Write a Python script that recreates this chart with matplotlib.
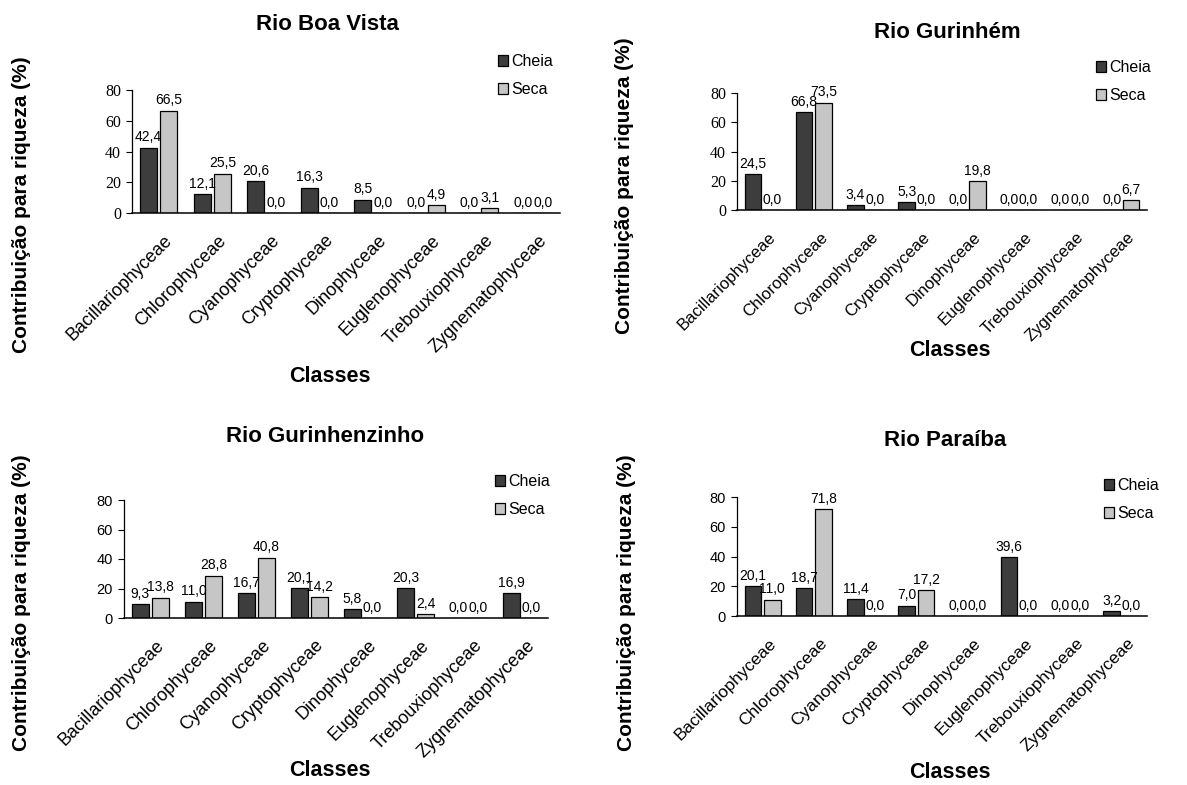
import numpy as np
import matplotlib
matplotlib.use('Agg')
import matplotlib.pyplot as plt
from matplotlib.transforms import ScaledTranslation

plt.rcParams['font.family'] = ['Liberation Sans', 'DejaVu Sans']

classes = ['Bacillariophyceae', 'Chlorophyceae', 'Cyanophyceae', 'Cryptophyceae',
           'Dinophyceae', 'Euglenophyceae', 'Trebouxiophyceae', 'Zygnematophyceae']

boa_vista_cheia = [42.4, 12.1, 20.6, 16.3, 8.5, 0.0, 0.0, 0.0]
boa_vista_seca = [66.5, 25.5, 0.0, 0.0, 0.0, 4.9, 3.1, 0.0]
gurinhem_cheia = [24.5, 66.8, 3.4, 5.3, 0.0, 0.0, 0.0, 0.0]
gurinhem_seca = [0.0, 73.5, 0.0, 0.0, 19.8, 0.0, 0.0, 6.7]
gurinhenzinho_cheia = [9.3, 11.0, 16.7, 20.1, 5.8, 20.3, 0.0, 16.9]
gurinhenzinho_seca = [13.8, 28.8, 40.8, 14.2, 0.0, 2.4, 0.0, 0.0]
paraiba_cheia = [20.1, 18.7, 11.4, 7.0, 0.0, 39.6, 0.0, 3.2]
paraiba_seca = [11.0, 71.8, 0.0, 17.2, 0.0, 0.0, 0.0, 0.0]

W, H = 1187, 785
fig = plt.figure(figsize=(W / 100, H / 100), dpi=100)

SERIF = ['Liberation Serif', 'DejaVu Serif']
SANS = ['Liberation Sans', 'DejaVu Sans']

# layout in pixels: axes box (left, right, top, bottom), title, xlabel, ylabel, legend corner
panels = [
    dict(title='Rio Boa Vista', cheia=boa_vista_cheia, seca=boa_vista_seca,
         box=(132, 560, 90, 213), t=(327, 25), xl=(330, 376), yl=(22, 205),
         leg=(498, 54), tickfam=SERIF, ytsize=11.5, xtsize=13),
    dict(title='Rio Gurinhém', cheia=gurinhem_cheia, seca=gurinhem_seca,
         box=(737, 1147, 93, 210), t=(947, 33), xl=(950, 350), yl=(624, 186),
         leg=(1096, 60), tickfam=SERIF, ytsize=11.5, xtsize=12),
    dict(title='Rio Gurinhenzinho', cheia=gurinhenzinho_cheia, seca=gurinhenzinho_seca,
         box=(124, 548, 500, 618), t=(325, 437), xl=(330, 770), yl=(22, 603),
         leg=(495, 474), tickfam=SANS, ytsize=10.5, xtsize=13),
    dict(title='Rio Paraíba', cheia=paraiba_cheia, seca=paraiba_seca,
         box=(737, 1147, 497, 616), t=(945, 441), xl=(950, 773), yl=(626, 603),
         leg=(1104, 478), tickfam=SANS, ytsize=10.5, xtsize=12.5),
]

x = np.arange(len(classes))
bw = 0.32
off = 0.19


def fmt(v):
    return f'{v:.1f}'.replace('.', ',')


for p in panels:
    l, r, t, b = p['box']
    ax = fig.add_axes([l / W, 1 - b / H, (r - l) / W, (b - t) / H])
    bc = ax.bar(x - off, p['cheia'], bw, color='#3d3d3d', edgecolor='black', lw=0.9, label='Cheia')
    bs = ax.bar(x + off, p['seca'], bw, color='#c6c6c6', edgecolor='black', lw=0.9, label='Seca')
    for xs, vals in ((x - off, p['cheia']), (x + off, p['seca'])):
        for xi, v in zip(xs, vals):
            ax.annotate(fmt(v), (xi, v), xytext=(0, 2.5), textcoords='offset points',
                        ha='center', va='bottom', fontsize=10)

    ax.set_xlim(-0.5, len(classes) - 0.5)
    ax.set_ylim(0, 80)
    ax.set_yticks([0, 20, 40, 60, 80])
    for s in ('top', 'right'):
        ax.spines[s].set_visible(False)
    ax.spines['left'].set_linewidth(0.9)
    ax.spines['bottom'].set_linewidth(1.1)
    ax.tick_params(axis='y', direction='out', length=4, width=0.8,
                   labelsize=p['ytsize'], pad=4)
    for lab in ax.get_yticklabels():
        lab.set_family(p['tickfam'])

    ax.set_xticks(x)
    ax.set_xticklabels(classes, rotation=45, ha='right', va='center',
                       rotation_mode='anchor', fontsize=p['xtsize'])
    ax.tick_params(axis='x', length=0, pad=18)
    shift = ScaledTranslation(0.11, 0, fig.dpi_scale_trans)
    for lab in ax.get_xticklabels():
        lab.set_transform(lab.get_transform() + shift)

    ax.legend(handles=[bc, bs], loc='upper left', frameon=False, fontsize=11.5,
              bbox_to_anchor=(p['leg'][0] / W, 1 - p['leg'][1] / H),
              bbox_transform=fig.transFigure, borderpad=0, borderaxespad=0,
              handlelength=0.6, handleheight=0.7, handletextpad=0.25, labelspacing=0.8)

    fig.text(p['t'][0] / W, 1 - p['t'][1] / H, p['title'], ha='center', va='center',
             fontsize=16, fontweight='bold')
    fig.text(p['xl'][0] / W, 1 - p['xl'][1] / H, 'Classes', ha='center', va='center',
             fontsize=15.5, fontweight='bold')
    fig.text(p['yl'][0] / W, 1 - p['yl'][1] / H, 'Contribuição para riqueza (%)',
             ha='center', va='center', rotation=90, fontsize=15, fontweight='bold')

fig.savefig('out.png', dpi=100)
